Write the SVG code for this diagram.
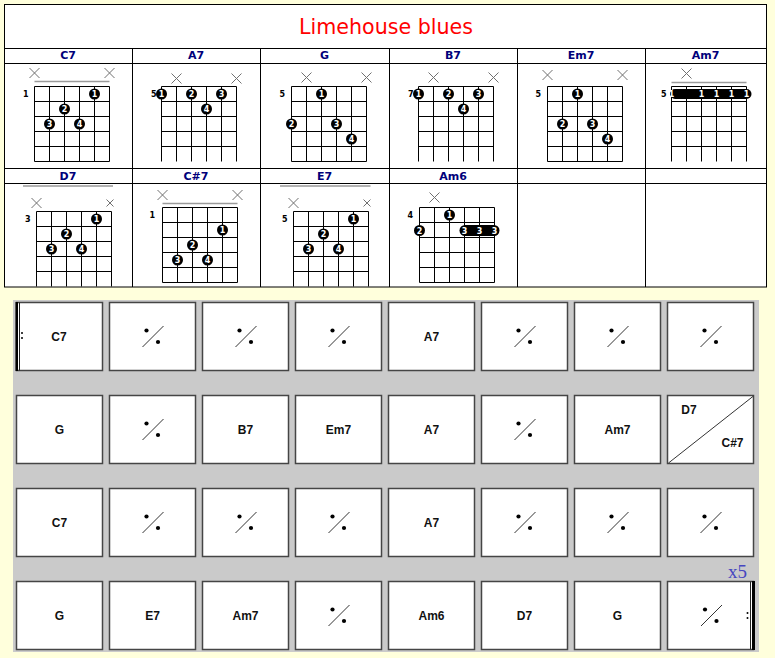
<svg xmlns="http://www.w3.org/2000/svg" xmlns:xlink="http://www.w3.org/1999/xlink" width="775" height="658" viewBox="0 0 775 658">
<style>
.hdr{font-family:"DejaVu Sans",Verdana,sans-serif;font-weight:bold;font-size:11px;fill:#00007a;text-anchor:middle}
.tl{stroke:#000;stroke-width:1;fill:none}
.grid{stroke:#000;stroke-width:1;fill:none}
.nut{stroke:#9a9a9a;stroke-width:1.5}
.xm{stroke:#707070;stroke-width:1;fill:none}
.fr{font-family:"DejaVu Sans",Verdana,sans-serif;font-weight:bold;font-size:8px;fill:#000;text-anchor:end}
.dn{font-family:"DejaVu Sans",Verdana,sans-serif;font-weight:bold;font-size:8px;fill:#fff;text-anchor:middle}
.cell{fill:#fff;stroke:#454545;stroke-width:1.5}
.ct{font-family:"Liberation Sans",Arial,sans-serif;font-weight:bold;font-size:12px;fill:#111;text-anchor:middle}
</style>
<defs>
<path id="gc" d="M0,0V75M15,0V75M30,0V75M45,0V75M60,0V75M75,0V75M0,0H75M0,15H75M0,30H75M0,45H75M0,60H75M0,75H75"/>
<path id="go" d="M0,0V75M15,0V75M30,0V75M45,0V75M60,0V75M75,0V75M0,0H75M0,15H75M0,30H75M0,45H75M0,60H75"/>
<path id="xb" d="M-5,-5L5,5M5,-5L-5,5"/>
<path id="xs" d="M-3.5,-3.5L3.5,3.5M3.5,-3.5L-3.5,3.5"/>
<circle id="dot" r="5.5" fill="#000"/>
<g id="rep">
<line x1="-10" y1="10.5" x2="11" y2="-10.5" stroke="#333" stroke-width="1"/>
<circle cx="-6" cy="-6" r="2.1" fill="#000"/>
<circle cx="5.5" cy="5.5" r="2.1" fill="#000"/>
</g>
</defs>
<rect x="0" y="0" width="775" height="658" fill="#ffffdc"/>

<g id="chord-table">
<rect x="4.5" y="4.5" width="762" height="282.5" fill="#fff" stroke="#000" stroke-width="1"/>
<text x="386" y="34" font-family="DejaVu Sans, Verdana, sans-serif" font-size="22" fill="#ff0000" text-anchor="middle" textLength="174" lengthAdjust="spacingAndGlyphs">Limehouse blues</text>
<path class="tl" d="M4.5,48.5H766.5M4.5,63.5H766.5M4.5,168.5H766.5M4.5,183.5H766.5M132.5,48.5V287M260.5,48.5V287M389.5,48.5V287M517.5,48.5V287M645.5,48.5V287"/>
<text class="hdr" x="68" y="59">C7</text>
<text class="hdr" x="196" y="59">A7</text>
<text class="hdr" x="324.5" y="59">G</text>
<text class="hdr" x="453" y="59">B7</text>
<text class="hdr" x="581" y="59">Em7</text>
<text class="hdr" x="705.5" y="59">Am7</text>
<text class="hdr" x="68" y="179.5">D7</text>
<text class="hdr" x="196" y="179.5">C#7</text>
<text class="hdr" x="324.5" y="179.5">E7</text>
<text class="hdr" x="453" y="179.5">Am6</text>
</g>

<g id="chord-C7" transform="translate(34.5,86.5)">
<line class="nut" x1="0" y1="-5" x2="75" y2="-5"/>
<use href="#xb" class="xm" x="0" y="-13.5"/><use href="#xb" class="xm" x="75" y="-13.5"/>
<use href="#gc" class="grid"/>
<text class="fr" x="-6" y="10.5">1</text>
<use href="#dot" x="60" y="7.5"/><text class="dn" x="60" y="10.5">1</text>
<use href="#dot" x="30" y="22.5"/><text class="dn" x="30" y="25.5">2</text>
<use href="#dot" x="15" y="37.5"/><text class="dn" x="15" y="40.5">3</text>
<use href="#dot" x="45" y="37.5"/><text class="dn" x="45" y="40.5">4</text>
</g>

<g id="chord-A7" transform="translate(161.5,86.5)">
<use href="#xb" class="xm" x="15" y="-8"/><use href="#xb" class="xm" x="75" y="-8"/>
<use href="#go" class="grid"/>
<text class="fr" x="-5" y="10.5">5</text>
<use href="#dot" x="0" y="7.5"/><text class="dn" x="0" y="10.5">1</text>
<use href="#dot" x="30" y="7.5"/><text class="dn" x="30" y="10.5">2</text>
<use href="#dot" x="60" y="7.5"/><text class="dn" x="60" y="10.5">3</text>
<use href="#dot" x="45" y="22.5"/><text class="dn" x="45" y="25.5">4</text>
</g>

<g id="chord-G" transform="translate(291.5,86.5)">
<use href="#xb" class="xm" x="15" y="-9"/><use href="#xb" class="xm" x="75" y="-9"/>
<use href="#gc" class="grid"/>
<text class="fr" x="-6.5" y="10.5">5</text>
<use href="#dot" x="30" y="7.5"/><text class="dn" x="30" y="10.5">1</text>
<use href="#dot" x="0" y="37.5"/><text class="dn" x="0" y="40.5">2</text>
<use href="#dot" x="45" y="37.5"/><text class="dn" x="45" y="40.5">3</text>
<use href="#dot" x="60" y="52.5"/><text class="dn" x="60" y="55.5">4</text>
</g>

<g id="chord-B7" transform="translate(418.5,86.5)">
<use href="#xb" class="xm" x="15" y="-9"/><use href="#xb" class="xm" x="75" y="-9"/>
<use href="#go" class="grid"/>
<text class="fr" x="-5" y="10.5">7</text>
<use href="#dot" x="0" y="7.5"/><text class="dn" x="0" y="10.5">1</text>
<use href="#dot" x="30" y="7.5"/><text class="dn" x="30" y="10.5">2</text>
<use href="#dot" x="60" y="7.5"/><text class="dn" x="60" y="10.5">3</text>
<use href="#dot" x="45" y="22.5"/><text class="dn" x="45" y="25.5">4</text>
</g>

<g id="chord-Em7" transform="translate(547.5,86.5)">
<use href="#xb" class="xm" x="0" y="-11.5"/><use href="#xb" class="xm" x="75" y="-11.5"/>
<use href="#gc" class="grid"/>
<text class="fr" x="-6.5" y="10.5">5</text>
<use href="#dot" x="30" y="7.5"/><text class="dn" x="30" y="10.5">1</text>
<use href="#dot" x="15" y="37.5"/><text class="dn" x="15" y="40.5">2</text>
<use href="#dot" x="45" y="37.5"/><text class="dn" x="45" y="40.5">3</text>
<use href="#dot" x="60" y="52.5"/><text class="dn" x="60" y="55.5">4</text>
</g>

<g id="chord-Am7" transform="translate(671.5,86.5)">
<line class="nut" x1="0" y1="-4" x2="75" y2="-4"/>
<use href="#xb" class="xm" x="15" y="-13"/>
<use href="#go" class="grid"/>
<text class="fr" x="-5" y="10.5">5</text>
<rect x="-1.5" y="2.5" width="81.5" height="10" rx="5" fill="#000"/>
<text class="dn" x="0" y="10.5">1</text>
<text class="dn" x="30" y="10.5">1</text>
<text class="dn" x="45" y="10.5">1</text>
<text class="dn" x="60" y="10.5">1</text>
<text class="dn" x="75" y="10.5">1</text>
</g>

<g id="chord-D7" transform="translate(36.5,211.5)">
<line class="nut" x1="-13.5" y1="-25.5" x2="76.5" y2="-25.5"/>
<use href="#xb" class="xm" x="0" y="-8.5"/><use href="#xs" class="xm" x="73.5" y="-8.5"/>
<use href="#go" class="grid"/>
<text class="fr" x="-6" y="10.5">3</text>
<use href="#dot" x="60" y="7.5"/><text class="dn" x="60" y="10.5">1</text>
<use href="#dot" x="30" y="22.5"/><text class="dn" x="30" y="25.5">2</text>
<use href="#dot" x="15" y="37.5"/><text class="dn" x="15" y="40.5">3</text>
<use href="#dot" x="45" y="37.5"/><text class="dn" x="45" y="40.5">4</text>
</g>

<g id="chord-Csharp7" transform="translate(162.5,207.5)">
<line class="nut" x1="0" y1="-4" x2="75" y2="-4"/>
<use href="#xb" class="xm" x="0" y="-12.5"/><use href="#xb" class="xm" x="75" y="-12.5"/>
<use href="#gc" class="grid"/>
<text class="fr" x="-7.5" y="10.5">1</text>
<use href="#dot" x="60" y="22.5"/><text class="dn" x="60" y="25.5">1</text>
<use href="#dot" x="30" y="37.5"/><text class="dn" x="30" y="40.5">2</text>
<use href="#dot" x="15" y="52.5"/><text class="dn" x="15" y="55.5">3</text>
<use href="#dot" x="45" y="52.5"/><text class="dn" x="45" y="55.5">4</text>
</g>

<g id="chord-E7" transform="translate(293.5,211.5)">
<line class="nut" x1="-13.5" y1="-25.5" x2="77" y2="-25.5"/>
<use href="#xb" class="xm" x="0" y="-8.5"/><use href="#xs" class="xm" x="73.5" y="-8.5"/>
<use href="#go" class="grid"/>
<text class="fr" x="-6" y="10.5">5</text>
<use href="#dot" x="60" y="7.5"/><text class="dn" x="60" y="10.5">1</text>
<use href="#dot" x="30" y="22.5"/><text class="dn" x="30" y="25.5">2</text>
<use href="#dot" x="15" y="37.5"/><text class="dn" x="15" y="40.5">3</text>
<use href="#dot" x="45" y="37.5"/><text class="dn" x="45" y="40.5">4</text>
</g>

<g id="chord-Am6" transform="translate(419.5,207.5)">
<use href="#xb" class="xm" x="15" y="-10"/>
<use href="#gc" class="grid"/>
<text class="fr" x="-6.5" y="10.5">4</text>
<use href="#dot" x="30" y="7.5"/><text class="dn" x="30" y="10.5">1</text>
<use href="#dot" x="0" y="23"/><text class="dn" x="0" y="26">2</text>
<rect x="40" y="17.5" width="40" height="11" rx="5.5" fill="#000"/>
<text class="dn" x="45" y="26">3</text>
<text class="dn" x="60" y="26">3</text>
<text class="dn" x="75" y="26">3</text>
</g>

<g id="bars">
<rect x="13" y="300" width="746" height="352" fill="#cacaca"/>
</g>

<g id="row1">
<g id="c1-1"><rect class="cell" x="16.5" y="302.5" width="86" height="68"/>
<rect x="15.5" y="302" width="2.5" height="69" fill="#000"/><line x1="19.5" y1="302.5" x2="19.5" y2="370.5" stroke="#222" stroke-width="1"/>
<circle cx="22" cy="333" r="1" fill="#000"/><circle cx="22" cy="338" r="1" fill="#000"/>
<text class="ct" x="59" y="340.5">C7</text></g>
<g id="c1-2"><rect class="cell" x="109.5" y="302.5" width="86" height="68"/><use href="#rep" x="152.5" y="336.5"/></g>
<g id="c1-3"><rect class="cell" x="202.5" y="302.5" width="86" height="68"/><use href="#rep" x="245.5" y="336.5"/></g>
<g id="c1-4"><rect class="cell" x="295.5" y="302.5" width="86" height="68"/><use href="#rep" x="338.5" y="336.5"/></g>
<g id="c1-5"><rect class="cell" x="388.5" y="302.5" width="86" height="68"/><text class="ct" x="431.5" y="340.5">A7</text></g>
<g id="c1-6"><rect class="cell" x="481.5" y="302.5" width="86" height="68"/><use href="#rep" x="524.5" y="336.5"/></g>
<g id="c1-7"><rect class="cell" x="574.5" y="302.5" width="86" height="68"/><use href="#rep" x="617.5" y="336.5"/></g>
<g id="c1-8"><rect class="cell" x="667.5" y="302.5" width="86" height="68"/><use href="#rep" x="710.5" y="336.5"/></g>
</g>

<g id="row2">
<g id="c2-1"><rect class="cell" x="16.5" y="395.5" width="86" height="68"/><text class="ct" x="59.5" y="433.5">G</text></g>
<g id="c2-2"><rect class="cell" x="109.5" y="395.5" width="86" height="68"/><use href="#rep" x="152.5" y="429.5"/></g>
<g id="c2-3"><rect class="cell" x="202.5" y="395.5" width="86" height="68"/><text class="ct" x="245.5" y="433.5">B7</text></g>
<g id="c2-4"><rect class="cell" x="295.5" y="395.5" width="86" height="68"/><text class="ct" x="338.5" y="433.5">Em7</text></g>
<g id="c2-5"><rect class="cell" x="388.5" y="395.5" width="86" height="68"/><text class="ct" x="431.5" y="433.5">A7</text></g>
<g id="c2-6"><rect class="cell" x="481.5" y="395.5" width="86" height="68"/><use href="#rep" x="524.5" y="429.5"/></g>
<g id="c2-7"><rect class="cell" x="574.5" y="395.5" width="86" height="68"/><text class="ct" x="617.5" y="433.5">Am7</text></g>
<g id="c2-8"><rect class="cell" x="667.5" y="395.5" width="86" height="68"/>
<line x1="668.5" y1="463" x2="753.5" y2="396" stroke="#333" stroke-width="1"/>
<text class="ct" x="689" y="413.5">D7</text><text class="ct" x="732.5" y="446.5">C#7</text></g>
</g>

<g id="row3">
<g id="c3-1"><rect class="cell" x="16.5" y="488.5" width="86" height="68"/><text class="ct" x="59.5" y="526.5">C7</text></g>
<g id="c3-2"><rect class="cell" x="109.5" y="488.5" width="86" height="68"/><use href="#rep" x="152.5" y="522.5"/></g>
<g id="c3-3"><rect class="cell" x="202.5" y="488.5" width="86" height="68"/><use href="#rep" x="245.5" y="522.5"/></g>
<g id="c3-4"><rect class="cell" x="295.5" y="488.5" width="86" height="68"/><use href="#rep" x="338.5" y="522.5"/></g>
<g id="c3-5"><rect class="cell" x="388.5" y="488.5" width="86" height="68"/><text class="ct" x="431.5" y="526.5">A7</text></g>
<g id="c3-6"><rect class="cell" x="481.5" y="488.5" width="86" height="68"/><use href="#rep" x="524.5" y="522.5"/></g>
<g id="c3-7"><rect class="cell" x="574.5" y="488.5" width="86" height="68"/><use href="#rep" x="617.5" y="522.5"/></g>
<g id="c3-8"><rect class="cell" x="667.5" y="488.5" width="86" height="68"/><use href="#rep" x="710.5" y="522.5"/></g>
</g>

<g id="row4">
<g id="c4-1"><rect class="cell" x="16.5" y="581.5" width="86" height="68"/><text class="ct" x="59.5" y="619.5">G</text></g>
<g id="c4-2"><rect class="cell" x="109.5" y="581.5" width="86" height="68"/><text class="ct" x="152.5" y="619.5">E7</text></g>
<g id="c4-3"><rect class="cell" x="202.5" y="581.5" width="86" height="68"/><text class="ct" x="245.5" y="619.5">Am7</text></g>
<g id="c4-4"><rect class="cell" x="295.5" y="581.5" width="86" height="68"/><use href="#rep" x="338.5" y="615.5"/></g>
<g id="c4-5"><rect class="cell" x="388.5" y="581.5" width="86" height="68"/><text class="ct" x="431.5" y="619.5">Am6</text></g>
<g id="c4-6"><rect class="cell" x="481.5" y="581.5" width="86" height="68"/><text class="ct" x="524.5" y="619.5">D7</text></g>
<g id="c4-7"><rect class="cell" x="574.5" y="581.5" width="86" height="68"/><text class="ct" x="617.5" y="619.5">G</text></g>
<g id="c4-8"><rect class="cell" x="667.5" y="581.5" width="86" height="68"/><use href="#rep" x="711" y="615.5"/>
<line x1="750.5" y1="581.5" x2="750.5" y2="649.5" stroke="#222" stroke-width="1"/>
<rect x="752" y="581" width="3" height="69" fill="#000"/>
<circle cx="747.5" cy="613" r="1" fill="#000"/><circle cx="747.5" cy="618" r="1" fill="#000"/></g>
<text x="737.5" y="577.5" font-family="Liberation Serif, Times New Roman, serif" font-size="19" fill="#4646c0" text-anchor="middle">x5</text>
</g>
</svg>
